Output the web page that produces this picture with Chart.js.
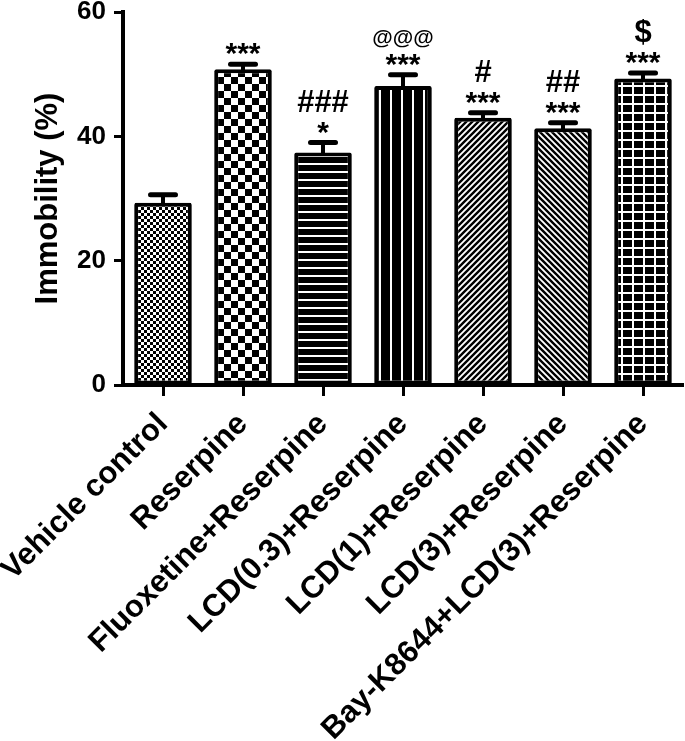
<!DOCTYPE html>
<html>
<head>
<meta charset="utf-8">
<script src="https://cdn.jsdelivr.net/npm/chart.js@4.4.0/dist/chart.umd.min.js"></script>
<style>
  html, body { margin: 0; padding: 0; background: #fff; }
  #chart { display: block; }
</style>
</head>
<body>
<canvas id="chart" width="685" height="741"></canvas>
<script>
// data
const groups = [
  'Vehicle control',
  'Reserpine',
  'Fluoxetine+Reserpine',
  'LCD(0.3)+Reserpine',
  'LCD(1)+Reserpine',
  'LCD(3)+Reserpine',
  'Bay-K8644+LCD(3)+Reserpine'
];
const immobility = [29.3, 50.8, 37.4, 48.1, 43.0, 41.3, 49.3];
const sem = [1.3, 0.8, 1.6, 1.8, 0.8, 0.9, 0.9];
const starMarks = ['', '***', '*', '***', '***', '***', '***'];
const groupMarks = ['', '', '###', '@@@', '#', '##', '$'];
const yTicks = [0, 20, 40, 60];

const FONT = "'Liberation Sans', Arial, sans-serif";
const canvas = document.getElementById('chart');
const ctx = canvas.getContext('2d');

// small tiles for the bar fills
function makePattern(w, h, draw) {
  const c = document.createElement('canvas');
  c.width = w;
  c.height = h;
  const g = c.getContext('2d');
  draw(g, w, h);
  return ctx.createPattern(c, 'repeat');
}

const fineChecker = makePattern(6, 6, (g) => {
  g.fillStyle = '#fff'; g.fillRect(0, 0, 6, 6);
  g.fillStyle = '#000'; g.fillRect(0, 0, 3, 3); g.fillRect(3, 3, 3, 3);
});
const bigChecker = makePattern(14, 14, (g) => {
  g.fillStyle = '#fff'; g.fillRect(0, 0, 14, 14);
  g.fillStyle = '#000'; g.fillRect(0, 0, 7, 7); g.fillRect(7, 7, 7, 7);
});
const hLines = makePattern(8, 8, (g) => {
  g.fillStyle = '#000'; g.fillRect(0, 0, 8, 8);
  g.fillStyle = '#fff'; g.fillRect(0, 3, 8, 2);
});
const vLines = makePattern(11, 8, (g) => {
  g.fillStyle = '#000'; g.fillRect(0, 0, 11, 8);
  g.fillStyle = '#fff'; g.fillRect(5, 0, 2, 8);
});
function diag(dir) {
  return makePattern(6, 6, (g) => {
    g.fillStyle = '#fff'; g.fillRect(0, 0, 6, 6);
    g.strokeStyle = '#000'; g.lineWidth = 2.4;
    g.beginPath();
    if (dir > 0) {
      g.moveTo(-1, 7); g.lineTo(7, -1);
      g.moveTo(-1, 1); g.lineTo(1, -1);
      g.moveTo(5, 7); g.lineTo(7, 5);
    } else {
      g.moveTo(-1, -1); g.lineTo(7, 7);
      g.moveTo(-1, 5); g.lineTo(1, 7);
      g.moveTo(5, -1); g.lineTo(7, 1);
    }
    g.stroke();
  });
}
const grid = makePattern(11, 9, (g) => {
  g.fillStyle = '#000'; g.fillRect(0, 0, 11, 9);
  g.fillStyle = '#fff'; g.fillRect(5, 0, 2, 9); g.fillRect(0, 4, 11, 2);
});

const fills = [fineChecker, bigChecker, hLines, vLines, diag(1), diag(-1), grid];

// error bars + significance marks
const errorBars = {
  id: 'errorBars',
  afterDatasetsDraw(chart) {
    const c = chart.ctx;
    const y = chart.scales.y;
    const meta = chart.getDatasetMeta(0);
    c.save();
    c.strokeStyle = '#000';
    c.fillStyle = '#000';
    meta.data.forEach((bar, i) => {
      const top = y.getPixelForValue(immobility[i] + sem[i]);
      c.lineWidth = 4;
      c.lineCap = 'butt';
      c.beginPath();
      c.moveTo(bar.x, bar.y + 2);
      c.lineTo(bar.x, top);
      c.stroke();
      c.lineWidth = 5;
      c.lineCap = 'round';
      c.beginPath();
      c.moveTo(bar.x - 12.5, top);
      c.lineTo(bar.x + 12.5, top);
      c.stroke();

      c.textAlign = 'center';
      c.textBaseline = 'alphabetic';
      c.font = 'bold 30px ' + FONT;
      if (starMarks[i]) c.fillText(starMarks[i], bar.x, top - 1);
      if (groupMarks[i]) {
        c.font = (groupMarks[i][0] === '@' ? 'bold 21px ' : 'bold 31px ') + FONT;
        c.fillText(groupMarks[i], bar.x, top - 31);
      }
    });
    c.restore();
  }
};

new Chart(ctx, {
  type: 'bar',
  data: {
    labels: groups,
    datasets: [{
      data: immobility,
      backgroundColor: fills,
      borderColor: '#000',
      borderWidth: 4,
      borderSkipped: false,
      borderRadius: 2,
      categoryPercentage: 0.72,
      barPercentage: 1
    }]
  },
  options: {
    responsive: false,
    animation: false,
    layout: { padding: { top: 12, right: 2, left: 0, bottom: 0 } },
    plugins: {
      legend: { display: false },
      tooltip: { enabled: false }
    },
    scales: {
      x: {
        offset: true,
        grid: {
          offset: false,
          drawOnChartArea: false,
          drawTicks: true,
          tickLength: 11,
          tickWidth: 3,
          color: '#000'
        },
        border: { width: 4, color: '#000' },
        ticks: {
          color: '#000',
          font: { family: FONT, size: 31, weight: 'bold' },
          minRotation: 45,
          maxRotation: 45,
          autoSkip: false,
          padding: 10
        },
        afterFit(scale) {
          scale.height = 356;
          scale.paddingLeft = 0;
          scale.paddingRight = 0;
        }
      },
      y: {
        min: 0,
        max: 60,
        afterBuildTicks(scale) { scale.ticks = yTicks.map(v => ({ value: v })); },
        grid: {
          drawOnChartArea: false,
          drawTicks: true,
          tickLength: 9,
          tickWidth: 3,
          color: '#000'
        },
        border: { width: 4, color: '#000' },
        ticks: {
          color: '#000',
          font: { family: FONT, size: 26, weight: 'bold' },
          padding: 8
        },
        title: {
          display: true,
          text: 'Immobility (%)',
          color: '#000',
          font: { family: FONT, size: 31, weight: 'bold' },
          padding: { top: 30, bottom: 0 }
        },
        afterFit(scale) {
          scale.width = 123;
          scale.paddingTop = 0;
          scale.paddingBottom = 0;
        }
      }
    }
  },
  plugins: [errorBars]
});
</script>
</body>
</html>
